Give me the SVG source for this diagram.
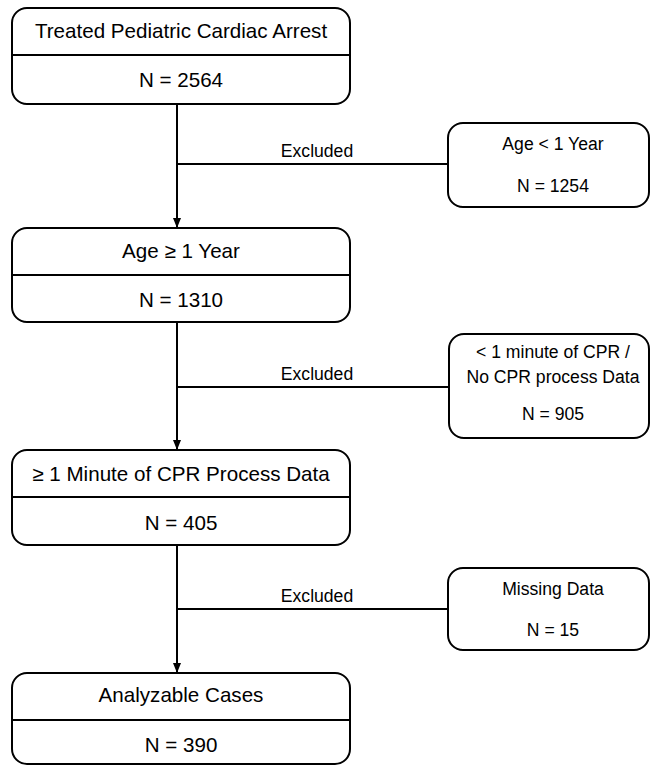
<svg xmlns="http://www.w3.org/2000/svg" width="651" height="766" viewBox="0 0 651 766">
<defs>
<style>
.box{fill:#fff;stroke:#000;stroke-width:2}
.div{stroke:#000;stroke-width:2}
.ln{stroke:#000;stroke-width:2;fill:none}
text{font-family:"Liberation Sans",Arial,sans-serif;fill:#000;text-anchor:middle}
.m{font-size:20.6px}
.s{font-size:17.6px}
</style>
<marker id="ah" markerWidth="10" markerHeight="10" viewBox="0 0 10 10" refX="10" refY="5" orient="auto" markerUnits="userSpaceOnUse">
<path d="M0,1 L10,5 L0,9 Z" fill="#000"/>
</marker>
</defs>
<rect width="651" height="766" fill="#fff"/>
<g id="connectors">
<line class="ln" x1="177" y1="104" x2="177" y2="228" marker-end="url(#ah)"/>
<line class="ln" x1="177" y1="164" x2="448" y2="164"/>
<text class="s" x="317" y="157">Excluded</text>
<line class="ln" x1="177" y1="322" x2="177" y2="450" marker-end="url(#ah)"/>
<line class="ln" x1="177" y1="387" x2="449" y2="387"/>
<text class="s" x="317" y="380">Excluded</text>
<line class="ln" x1="177" y1="545" x2="177" y2="673" marker-end="url(#ah)"/>
<line class="ln" x1="177" y1="609" x2="448" y2="609"/>
<text class="s" x="317" y="602">Excluded</text>
</g>
<g id="n1">
<rect class="box" x="12" y="8" width="338" height="96" rx="15"/>
<line class="div" x1="12" y1="55" x2="350" y2="55"/>
<text class="m" x="181" y="38">Treated Pediatric Cardiac Arrest</text>
<text class="m" x="181" y="87">N = 2564</text>
</g>
<g id="n2">
<rect class="box" x="12" y="228" width="338" height="94" rx="15"/>
<line class="div" x1="12" y1="275" x2="350" y2="275"/>
<text class="m" x="181" y="258">Age ≥ 1 Year</text>
<text class="m" x="181" y="307">N = 1310</text>
</g>
<g id="n3">
<rect class="box" x="12" y="450" width="338" height="95" rx="15"/>
<line class="div" x1="12" y1="497" x2="350" y2="497"/>
<text class="m" x="181" y="481">≥ 1 Minute of CPR Process Data</text>
<text class="m" x="181" y="530">N = 405</text>
</g>
<g id="n4">
<rect class="box" x="12" y="673" width="338" height="91" rx="15"/>
<line class="div" x1="12" y1="720" x2="350" y2="720"/>
<text class="m" x="181" y="702">Analyzable Cases</text>
<text class="m" x="181" y="752">N = 390</text>
</g>
<g id="s1">
<rect class="box" x="448" y="123" width="201" height="84" rx="15"/>
<text class="s" x="553" y="150">Age &lt; 1 Year</text>
<text class="s" x="553" y="192">N = 1254</text>
</g>
<g id="s2">
<rect class="box" x="449" y="334" width="200" height="104" rx="15"/>
<text class="s" x="553" y="358">&lt; 1 minute of CPR /</text>
<text class="s" x="553" y="383">No CPR process Data</text>
<text class="s" x="553" y="420">N = 905</text>
</g>
<g id="s3">
<rect class="box" x="448" y="568" width="201" height="82" rx="15"/>
<text class="s" x="553" y="595">Missing Data</text>
<text class="s" x="553" y="636">N = 15</text>
</g>
</svg>
